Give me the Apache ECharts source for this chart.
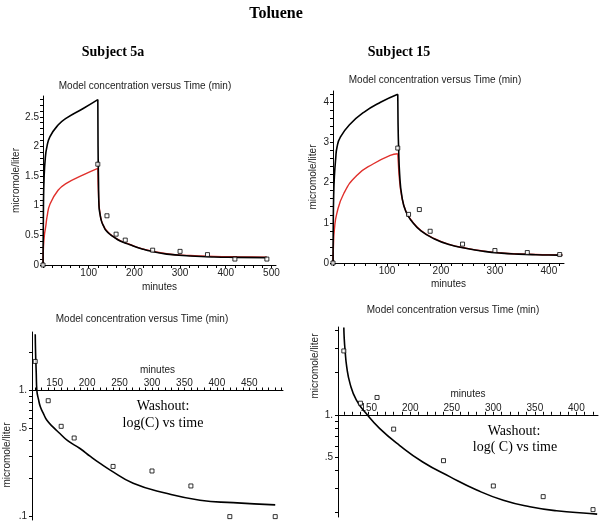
<!DOCTYPE html>
<html>
<head>
<meta charset="utf-8">
<title>Toluene</title>
<script src="https://cdn.jsdelivr.net/npm/echarts@6/dist/echarts.min.js"></script>
<style>
  html, body { margin: 0; padding: 0; background: #fff; }
  #chart { width: 600px; height: 526px; }
</style>
</head>
<body>
<div id="chart"></div>
<script>
// ---- values (minutes, micromole/liter) ----

// Subject 5a: exposure phase (0-120 min)
const s5aRiseT = [0, 1, 2.5, 5, 8, 15, 33, 52, 88, 120];
const s5aRiseBlack = [0, 1.0, 1.5, 1.8, 1.97, 2.16, 2.36, 2.48, 2.64, 2.79];
const s5aRedRiseT = [0, 1, 3, 6, 9, 15, 33, 52, 88, 120];
const s5aRiseRed = [0, 0.3, 0.5, 0.65, 0.82, 1.02, 1.26, 1.38, 1.52, 1.63];
// Subject 5a: washout
const s5aWashT = [120, 120.5, 121.5, 122.5, 125, 128, 133, 138, 148, 158, 170, 189, 205, 220, 235, 271, 322, 374, 425, 490];
const s5aWashBlack = [2.79, 2.0, 1.4, 1.0, 0.85, 0.74, 0.65, 0.58, 0.51, 0.456, 0.40, 0.347, 0.30, 0.264, 0.235, 0.184, 0.153, 0.135, 0.129, 0.124];
const s5aRedWashT = [120, 122, 125, 130, 138, 148, 158, 170, 189, 220, 271, 322, 374, 425, 490];
const s5aWashRed = [1.63, 1.1, 0.86, 0.7, 0.59, 0.515, 0.46, 0.405, 0.35, 0.268, 0.19, 0.16, 0.145, 0.138, 0.133];
// Subject 5a: measured
const s5aObsT = [0, 120, 140, 160, 180, 240, 300, 360, 420, 490];
const s5aObsC = [0, 1.7, 0.83, 0.52, 0.42, 0.25, 0.23, 0.175, 0.1, 0.1];

// Subject 15: exposure phase
const s15RiseT = [0, 0.5, 1.2, 2.5, 5, 7.4, 13.6, 32, 57, 88, 120];
const s15RiseBlack = [0, 1.0, 1.65, 2.14, 2.6, 2.88, 3.13, 3.46, 3.75, 4.0, 4.2];
const s15RedRiseT = [0, 1, 2.5, 7, 20, 44, 75, 106, 120];
const s15RiseRed = [0, 0.5, 0.82, 1.23, 1.73, 2.18, 2.47, 2.68, 2.72];
// Subject 15: washout
const s15WashT = [120, 120.5, 121.5, 123.5, 127.5, 135, 147, 163, 187, 215, 248, 280, 312, 344, 376, 416, 425];
const s15WashBlack = [4.2, 3.5, 2.9, 2.2, 1.67, 1.28, 1.02, 0.80, 0.605, 0.46, 0.36, 0.29, 0.245, 0.22, 0.206, 0.197, 0.195];
const s15RedWashT = [120, 121, 123, 127, 135, 147, 163, 187, 215, 248, 280, 312, 344, 376, 416, 425];
const s15WashRed = [2.72, 2.5, 2.1, 1.68, 1.29, 1.03, 0.81, 0.61, 0.465, 0.365, 0.295, 0.25, 0.225, 0.21, 0.202, 0.2];
// Subject 15: measured
const s15ObsT = [0, 120, 140, 160, 180, 240, 300, 360, 420];
const s15ObsC = [0, 2.86, 1.21, 1.33, 0.79, 0.47, 0.31, 0.26, 0.21];

// tick labels
const topLeftXLabels = [100, 200, 300, 400, 500];
const topLeftYLabels = [0, 0.5, 1, 1.5, 2, 2.5];
const topRightXLabels = [100, 200, 300, 400];
const topRightYLabels = [0, 1, 2, 3, 4];
const botLeftXLabels = [150, 200, 250, 300, 350, 400, 450];
const botRightXLabels = [150, 200, 250, 300, 350, 400];
const botLeftYLabels = [0.1, 0.5, 1];
const botRightYLabels = [0.5, 1];
const botLeftYTicks = [0.1, 0.2, 0.3, 0.4, 0.5, 0.6, 0.7, 0.8, 0.9, 1, 2];
const botRightYTicks = [0.2, 0.3, 0.4, 0.5, 0.6, 0.7, 0.8, 0.9, 1, 2, 3, 4];

// ---- helpers ----
const SANS = '"Liberation Sans", Arial, sans-serif';
const SERIF = '"Liberation Serif", "Times New Roman", serif';
const RED = '#e0302c';

const pairs = (t, c) => t.map((v, i) => [v, c[i]]);
const washoutOnly = (t, c) => pairs(t, c).filter(p => p[0] >= 120);
const steps = (from, to, step) => {
    const out = [];
    for (let v = from; v <= to + 1e-9; v += step) out.push(Math.round(v * 1000) / 1000);
    return out;
};

function makeAxis(p) {
    return {
        type: p.type || 'value',
        gridIndex: p.grid,
        min: p.min,
        max: p.max,
        position: p.position,
        offset: p.offset || 0,
        name: p.name || '',
        nameLocation: 'middle',
        nameGap: p.nameGap || 0,
        nameTextStyle: { color: '#222', fontSize: 10, fontFamily: SANS },
        axisLine: { show: true, onZero: false, lineStyle: { color: '#000', width: 1 } },
        axisTick: { show: true, inside: false, length: 3, customValues: p.ticks, lineStyle: { color: '#000', width: 1 } },
        minorTick: { show: false },
        axisLabel: {
            show: true,
            customValues: p.labels,
            margin: p.margin || 4,
            formatter: p.formatter,
            color: '#222',
            fontSize: 10,
            fontFamily: SANS
        },
        splitLine: { show: false }
    };
}

const logLabel = v => (v > 0.99 ? '1.' : '.' + Math.round(v * 10));

function curve(data, color, width, xi) {
    return {
        type: 'line',
        data: data,
        xAxisIndex: xi,
        yAxisIndex: xi,
        symbol: 'none',
        smooth: 0.5,
        lineStyle: { color: color, width: width },
        itemStyle: { color: color },
        silent: true
    };
}

function points(data, xi) {
    return {
        type: 'scatter',
        data: data,
        xAxisIndex: xi,
        yAxisIndex: xi,
        symbol: 'rect',
        symbolSize: 4,
        itemStyle: { color: '#fff', borderColor: '#000', borderWidth: 1 },
        z: 5
    };
}

// grids (px)
const grids = [
    { left: 43, top: 96, width: 233, height: 169 },
    { left: 333, top: 91, width: 231, height: 172 },
    { left: 32, top: 332, width: 251, height: 188 },
    { left: 338, top: 327, width: 260, height: 190 }
];
const logRange2 = [0.094, 2.91];
const logRange3 = [0.186, 4.24];
// place the time axis of the log plots on the line C = 1
const offsetAtOne = (g, r) => -g.height * Math.log(r[1]) / Math.log(r[1] / r[0]);

const chart = echarts.init(document.getElementById('chart'));

const option = {
    backgroundColor: '#fff',
    animation: false,
    grid: grids.map(g => Object.assign({ containLabel: false }, g)),
    xAxis: [
        makeAxis({ grid: 0, min: 0, max: 510, position: 'bottom', ticks: steps(0, 500, 20), labels: topLeftXLabels, name: 'minutes', nameGap: 17, margin: 3 }),
        makeAxis({ grid: 1, min: 0, max: 428, position: 'bottom', ticks: steps(0, 420, 20), labels: topRightXLabels, name: 'minutes', nameGap: 16, margin: 3 }),
        makeAxis({ grid: 2, min: 115, max: 502, position: 'top', offset: offsetAtOne(grids[2], logRange2), ticks: steps(120, 500, 10), labels: botLeftXLabels, name: 'minutes', nameGap: 15, margin: 2 }),
        makeAxis({ grid: 3, min: 113, max: 426, position: 'top', offset: offsetAtOne(grids[3], logRange3), ticks: steps(120, 420, 10), labels: botRightXLabels, name: 'minutes', nameGap: 16, margin: 2 })
    ],
    yAxis: [
        makeAxis({ grid: 0, min: 0, max: 2.85, position: 'left', ticks: steps(0, 2.8, 0.1), labels: topLeftYLabels, name: 'micromole/liter', nameGap: 22, margin: 4 }),
        makeAxis({ grid: 1, min: 0, max: 4.28, position: 'left', ticks: steps(0, 4.2, 0.2), labels: topRightYLabels, name: 'micromole/liter', nameGap: 15, margin: 4 }),
        makeAxis({ grid: 2, type: 'log', min: logRange2[0], max: logRange2[1], position: 'left', ticks: botLeftYTicks, labels: botLeftYLabels, formatter: logLabel, margin: 5 }),
        makeAxis({ grid: 3, type: 'log', min: logRange3[0], max: logRange3[1], position: 'left', ticks: botRightYTicks, labels: botRightYLabels, formatter: logLabel, margin: 5 })
    ],
    series: [
        // Subject 5a, linear
        curve(pairs(s5aRedRiseT, s5aRiseRed), RED, 1.4, 0),
        curve(pairs(s5aRedWashT, s5aWashRed), RED, 1.4, 0),
        curve(pairs(s5aRiseT, s5aRiseBlack), '#000', 1.6, 0),
        curve(pairs(s5aWashT, s5aWashBlack), '#000', 1.6, 0),
        points(pairs(s5aObsT, s5aObsC), 0),
        // Subject 15, linear
        curve(pairs(s15RedRiseT, s15RiseRed), RED, 1.4, 1),
        curve(pairs(s15RedWashT, s15WashRed), RED, 1.4, 1),
        curve(pairs(s15RiseT, s15RiseBlack), '#000', 1.6, 1),
        curve(pairs(s15WashT, s15WashBlack), '#000', 1.6, 1),
        points(pairs(s15ObsT, s15ObsC), 1),
        // washout, log scale
        curve(pairs(s5aWashT, s5aWashBlack), '#000', 1.6, 2),
        points(washoutOnly(s5aObsT, s5aObsC), 2),
        curve(pairs(s15WashT, s15WashBlack), '#000', 1.6, 3),
        points(washoutOnly(s15ObsT, s15ObsC), 3)
    ],
    graphic: [
        { type: 'text', x: 276, y: 14, style: { text: 'Toluene', font: 'bold 16px ' + SERIF, fill: '#000', align: 'center', verticalAlign: 'middle' } },
        { type: 'text', x: 113, y: 52, style: { text: 'Subject 5a', font: 'bold 14px ' + SERIF, fill: '#000', align: 'center', verticalAlign: 'middle' } },
        { type: 'text', x: 399, y: 52, style: { text: 'Subject 15', font: 'bold 14px ' + SERIF, fill: '#000', align: 'center', verticalAlign: 'middle' } },
        { type: 'text', x: 145, y: 86, style: { text: 'Model concentration versus Time (min)', font: '10px ' + SANS, fill: '#222', align: 'center', verticalAlign: 'middle' } },
        { type: 'text', x: 435, y: 80, style: { text: 'Model concentration versus Time (min)', font: '10px ' + SANS, fill: '#222', align: 'center', verticalAlign: 'middle' } },
        { type: 'text', x: 142, y: 319, style: { text: 'Model concentration versus Time (min)', font: '10px ' + SANS, fill: '#222', align: 'center', verticalAlign: 'middle' } },
        { type: 'text', x: 453, y: 310, style: { text: 'Model concentration versus Time (min)', font: '10px ' + SANS, fill: '#222', align: 'center', verticalAlign: 'middle' } },
        { type: 'text', x: 7, y: 455, rotation: Math.PI / 2, style: { text: 'micromole/liter', font: '10px ' + SANS, fill: '#222', align: 'center', verticalAlign: 'middle' } },
        { type: 'text', x: 315, y: 366, rotation: Math.PI / 2, style: { text: 'micromole/liter', font: '10px ' + SANS, fill: '#222', align: 'center', verticalAlign: 'middle' } },
        { type: 'text', x: 163, y: 406, style: { text: 'Washout:', font: '14px ' + SERIF, fill: '#000', align: 'center', verticalAlign: 'middle' } },
        { type: 'text', x: 163, y: 423, style: { text: 'log(C) vs time', font: '14px ' + SERIF, fill: '#000', align: 'center', verticalAlign: 'middle' } },
        { type: 'text', x: 514, y: 431, style: { text: 'Washout:', font: '14px ' + SERIF, fill: '#000', align: 'center', verticalAlign: 'middle' } },
        { type: 'text', x: 515, y: 447, style: { text: 'log( C) vs time', font: '14px ' + SERIF, fill: '#000', align: 'center', verticalAlign: 'middle' } }
    ]
};

chart.setOption(option);
window.addEventListener('resize', () => chart.resize());
</script>
</body>
</html>
